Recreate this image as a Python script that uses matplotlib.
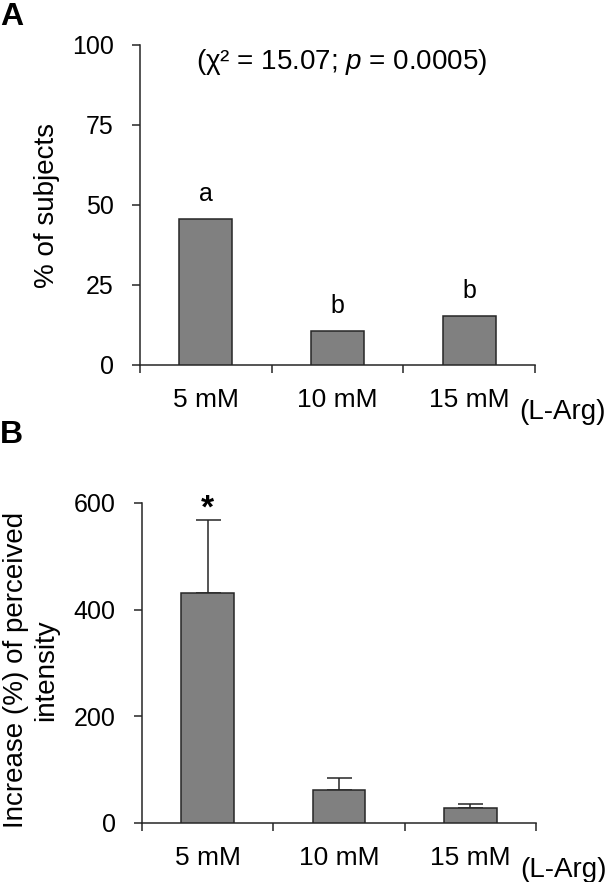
import numpy as np
import matplotlib
matplotlib.use('Agg')
import matplotlib.pyplot as plt

plt.rcParams['font.family'] = ['Liberation Sans', 'DejaVu Sans']
plt.rcParams['mathtext.fontset'] = 'custom'
plt.rcParams['mathtext.rm'] = 'Liberation Sans'
plt.rcParams['mathtext.it'] = 'Liberation Sans:italic'

# data
doses = ['5 mM', '10 mM', '15 mM']

subjects_pct = [45.5, 10.6, 15.2]      # panel A
group_letters = ['a', 'b', 'b']
yticks_a = [0, 25, 50, 75, 100]

intensity_inc = [431, 61, 29]          # panel B
intensity_err = [137, 23, 7]
yticks_b = [0, 200, 400, 600]

bar_col = '#808080'
line_col = '#262626'

W, H = 615, 882
fig = plt.figure(figsize=(W / 100, H / 100), dpi=100)


def px_axes(l, t, r, b):
    # axes box given in pixel coords of the picture
    return fig.add_axes([l / W, 1 - b / H, (r - l) / W, (b - t) / H])


def setup(ax, yticks, ymax):
    n = len(doses)
    ax.set_xlim(-0.5, n - 0.5)
    ax.set_ylim(0, ymax)
    for s in ['top', 'right']:
        ax.spines[s].set_visible(False)
    for s in ['left', 'bottom']:
        ax.spines[s].set_color(line_col)
        ax.spines[s].set_linewidth(1.1)
    ax.set_yticks(yticks)
    ax.tick_params(axis='y', direction='out', length=6, width=1.1,
                   color=line_col, pad=13, labelsize=18)
    # ticks between categories, like excel
    ax.set_xticks(np.arange(n + 1) - 0.5)
    ax.set_xticklabels([])
    ax.tick_params(axis='x', direction='out', length=6, width=1.1, color=line_col)
    for i, d in enumerate(doses):
        ax.annotate(d, xy=(i, 0), xycoords=('data', 'axes fraction'),
                    xytext=(0, -25), textcoords='offset points',
                    ha='center', va='center', fontsize=19)
    ax.annotate('(L-Arg)', xy=(1, 0), xycoords='axes fraction',
                xytext=(20, -34), textcoords='offset points',
                ha='center', va='center', fontsize=20)


############ panel A ############
axA = px_axes(140, 45, 535, 365)
setup(axA, yticks_a, 100)
x = np.arange(len(doses))
axA.bar(x, subjects_pct, width=0.4, color=bar_col, edgecolor=line_col, linewidth=1.1, zorder=3)
for i, (v, lt) in enumerate(zip(subjects_pct, group_letters)):
    axA.annotate(lt, xy=(i, v), xytext=(0, 13), textcoords='offset points',
                 ha='center', va='baseline', fontsize=18)
fig.text(342 / W, 1 - 62 / H, '(χ² = 15.07; $\\it{p}$ = 0.0005)',
         ha='center', va='center', fontsize=20)
fig.text(47 / W, 1 - 205 / H, '% of subjects', rotation=90,
         ha='center', va='center', fontsize=20)
fig.text(0.0, 1 - 25 / H, 'A', fontsize=23, fontweight='bold', ha='left', va='baseline')

############ panel B ############
axB = px_axes(142, 503, 536, 823)
setup(axB, yticks_b, 600)
axB.bar(x, intensity_inc, width=0.4, color=bar_col, edgecolor=line_col, linewidth=1.1, zorder=3)
axB.errorbar(x, intensity_inc, yerr=[[0] * len(x), intensity_err], fmt='none',
             ecolor=line_col, elinewidth=1.1, capsize=9, capthick=1.1, zorder=2)
axB.annotate('*', xy=(0, intensity_inc[0] + intensity_err[0]), xytext=(0, -3),
             textcoords='offset points', ha='center', va='bottom',
             fontsize=24, fontweight='bold')
fig.text(31 / W, 1 - 670 / H, 'Increase (%) of perceived\nintensity', rotation=90,
         ha='center', va='center', multialignment='center', fontsize=20, linespacing=1.2)
fig.text(0.0, 1 - 443 / H, 'B', fontsize=23, fontweight='bold', ha='left', va='baseline')

fig.savefig('out.png', dpi=100)
